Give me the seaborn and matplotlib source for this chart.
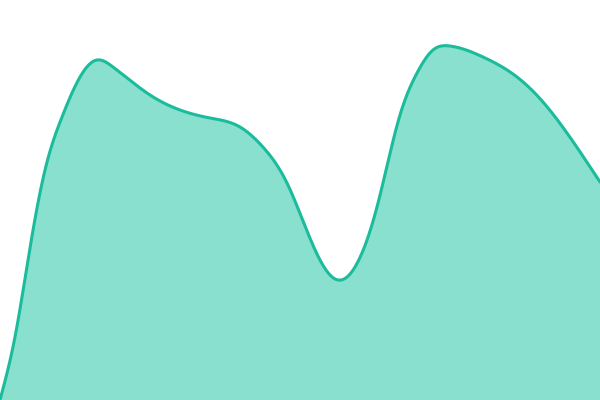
import numpy as np
import pandas as pd
import matplotlib
matplotlib.use('Agg')
import matplotlib.pyplot as plt
import seaborn as sns

# positions along the x axis and the series value (0 = bottom, 400 = top)
xs = [0, 15, 30, 45, 62, 80, 97, 113, 150, 180, 210, 240, 262, 287, 320,
      338, 355, 377, 400, 417, 433, 450, 483, 517, 543, 567, 600]
values = [0, 63, 152, 230, 283, 323, 340, 333, 305, 290, 282, 273, 254, 217,
          140, 120, 133, 193, 285, 327, 350, 354, 343, 323, 298, 267, 218]

line_color = '#1abc9c'
fill_color = '#8ae0cf'


def natural_spline(px, py, n=400):
    # natural cubic spline through the points
    px = np.asarray(px, float)
    py = np.asarray(py, float)
    k = len(px)
    h = np.diff(px)
    A = np.zeros((k, k))
    b = np.zeros(k)
    A[0, 0] = A[-1, -1] = 1
    for i in range(1, k - 1):
        A[i, i - 1] = h[i - 1]
        A[i, i] = 2 * (h[i - 1] + h[i])
        A[i, i + 1] = h[i]
        b[i] = 6 * ((py[i + 1] - py[i]) / h[i] - (py[i] - py[i - 1]) / h[i - 1])
    M = np.linalg.solve(A, b)
    gx = np.linspace(px[0], px[-1], n)
    idx = np.clip(np.searchsorted(px, gx) - 1, 0, k - 2)
    x0, x1 = px[idx], px[idx + 1]
    hh = x1 - x0
    a = (x1 - gx) / hh
    c = (gx - x0) / hh
    gy = (a * py[idx] + c * py[idx + 1]
          + ((a ** 3 - a) * M[idx] + (c ** 3 - c) * M[idx + 1]) * hh ** 2 / 6)
    return gx, gy


sx, sy = natural_spline(xs, values)
df = pd.DataFrame({'x': sx, 'y': sy})

sns.set_style('white')
fig = plt.figure(figsize=(6, 4), dpi=100)
ax = fig.add_axes([0, 0, 1, 1])
ax.fill_between(df['x'], df['y'], 0, color=fill_color, linewidth=0)
sns.lineplot(data=df, x='x', y='y', ax=ax, color=line_color, linewidth=2.2,
             sort=False, estimator=None)
ax.set_xlim(0, 600)
ax.set_ylim(0, 400)
ax.axis('off')
fig.savefig('out.png', dpi=100)
